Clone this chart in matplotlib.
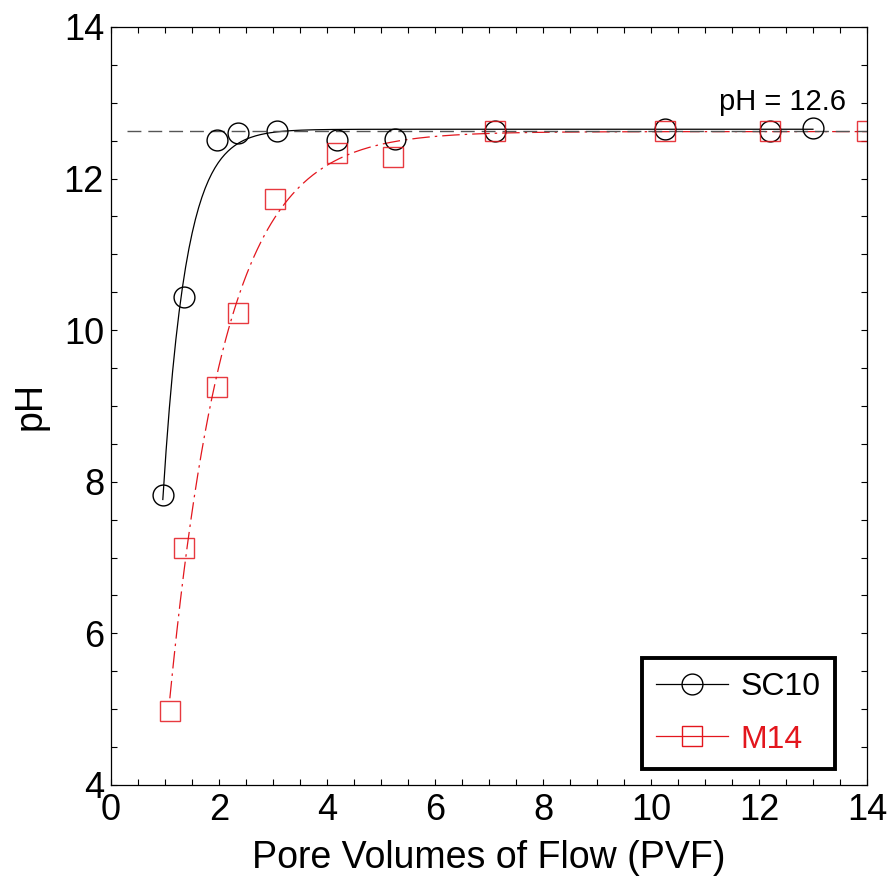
import numpy as np
import matplotlib
matplotlib.use("Agg")
import matplotlib.pyplot as plt
from matplotlib.ticker import MultipleLocator

plt.rcParams['font.family'] = ['Liberation Sans', 'DejaVu Sans']

# Data
sc10_x = [0.96, 1.35, 1.96, 2.35, 3.07, 4.19, 5.26, 7.11, 10.26, 12.2, 13.0]
sc10_y = [7.83, 10.44, 12.51, 12.60, 12.63, 12.51, 12.52, 12.63, 12.65, 12.63, 12.67]
m14_x = [1.09, 1.35, 1.96, 2.35, 3.04, 4.19, 5.23, 7.11, 10.26, 12.2, 14.0]
m14_y = [4.98, 7.13, 9.25, 10.23, 11.73, 12.34, 12.28, 12.63, 12.63, 12.63, 12.63]
ref_ph = 12.63
ref_label = "pH = 12.6"
labels = ["SC10", "M14"]


def fit_exp(x, y):
    x = np.asarray(x); y = np.asarray(y)
    best = None
    for k in np.linspace(0.2, 5, 400):
        M = np.column_stack([np.ones_like(x), -np.exp(-k * x)])
        coef, res, *_ = np.linalg.lstsq(M, y, rcond=None)
        r = np.sum((M @ coef - y) ** 2)
        if best is None or r < best[0]:
            best = (r, k, coef)
    _, k, (a, b) = best
    xs = np.linspace(x.min(), x.max(), 400)
    return xs, a - b * np.exp(-k * xs)


fig = plt.figure(figsize=(8.9, 8.82), dpi=100)
ax = fig.add_axes([0.1247, 0.110, 0.8494, 0.8594])

black = 'black'
red = '#e3161d'

xs, ys = fit_exp(sc10_x, sc10_y)
ax.plot(xs, ys, color=black, lw=0.9)
xs2, ys2 = fit_exp(m14_x, m14_y)
ax.plot(xs2, ys2, color=red, lw=0.9, linestyle=(0, (14, 4, 2, 4)))

ax.hlines(ref_ph, 0.3, 14, colors='#555555', linestyles=(0, (10, 5)), lw=1.0)

ax.plot(sc10_x, sc10_y, linestyle='none', marker='o', ms=15, mfc='none',
        mec=black, mew=1.0)
ax.plot(m14_x, m14_y, linestyle='none', marker='s', ms=14.5, mfc='none',
        mec=red, mew=1.0, alpha=0.85)

ax.text(12.43, 12.905, ref_label, fontsize=21, ha='center', va='baseline')

# legend handles
h1, = ax.plot([], [], color=black, lw=0.9, marker='o', ms=15, mfc='none', mec=black)
h2, = ax.plot([], [], color=red, lw=0.9, marker='s', ms=14.5, mfc='none', mec=red)
leg = ax.legend([h1, h2], labels, loc='lower right', bbox_to_anchor=(0.9577, 0.0211),
                borderaxespad=0, fontsize=23, frameon=True, fancybox=False,
                framealpha=1.0, edgecolor='black', handlelength=2.25,
                borderpad=0.45, labelspacing=0.7, handletextpad=0.4)
leg.get_frame().set_linewidth(2.8)
for t, c in zip(leg.get_texts(), [black, red]):
    t.set_color(c)

ax.set_xlim(0, 14)
ax.set_ylim(4, 14)
ax.xaxis.set_major_locator(MultipleLocator(2))
ax.xaxis.set_minor_locator(MultipleLocator(0.5))
ax.yaxis.set_major_locator(MultipleLocator(2))
ax.yaxis.set_minor_locator(MultipleLocator(0.5))
ax.tick_params(which='both', direction='in', top=True, right=True, width=0.8,
               labelsize=26, length=4.5)
ax.tick_params(axis='y', pad=5)
ax.tick_params(axis='x', pad=6)
for s in ax.spines.values():
    s.set_linewidth(0.9)

ax.set_xlabel("Pore Volumes of Flow (PVF)", fontsize=27)
ax.set_ylabel("pH", fontsize=27)
ax.yaxis.set_label_coords(-0.083, 0.5)
ax.xaxis.set_label_coords(0.5, -0.072)
ax.xaxis.label.set_va('top')

fig.savefig("out.png", dpi=100)
